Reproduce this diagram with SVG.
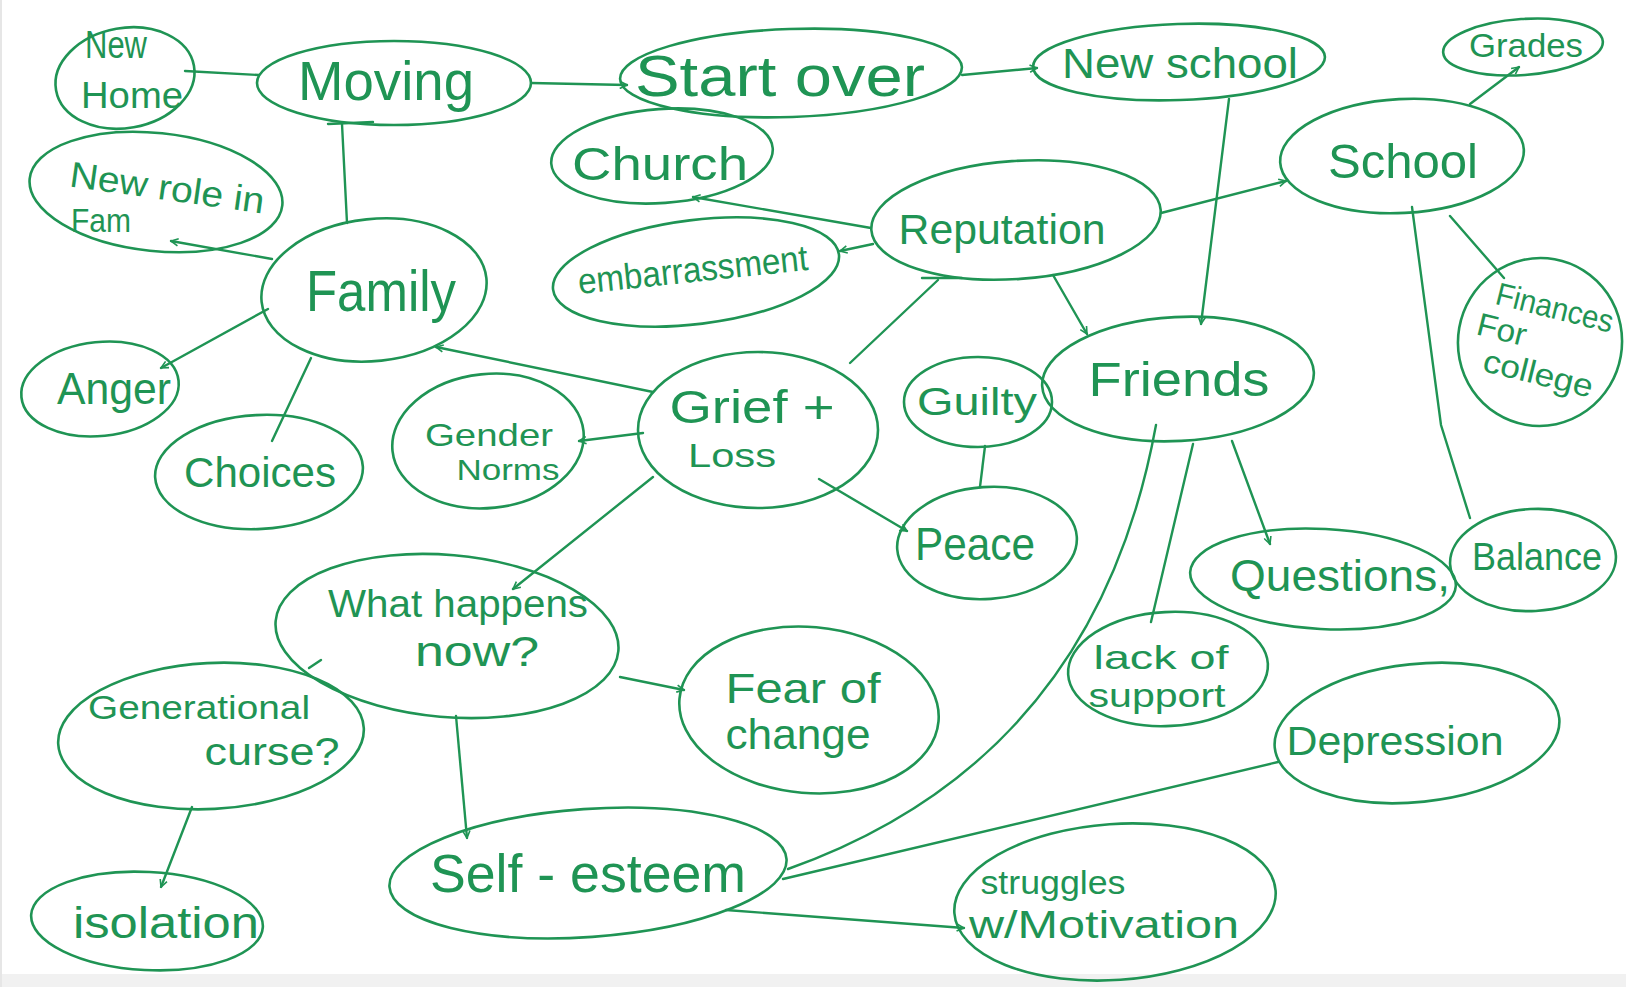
<svg xmlns="http://www.w3.org/2000/svg" width="1626" height="987" viewBox="0 0 1626 987">
<defs>
<style>
.n{fill:none;stroke:#1f9454;stroke-width:2.6}
.c{fill:none;stroke:#1f9454;stroke-width:2.4;stroke-linecap:round}
text{font-family:"Liberation Sans",sans-serif;fill:#1f9454;text-anchor:middle}
</style>
<marker id="a" viewBox="0 0 10 10" refX="9" refY="5" markerWidth="9" markerHeight="9" orient="auto" markerUnits="userSpaceOnUse">
<path d="M1,1 L9,5 L1,9" fill="none" stroke="#1f9454" stroke-width="1.8"/>
</marker>
</defs>
<rect width="1626" height="987" fill="#ffffff"/>
<rect x="0" y="974" width="1626" height="13" fill="#f1f1f1"/>
<rect x="0" y="0" width="2" height="987" fill="#e6e6e6"/>

<g id="connectors">
<line class="c" x1="185" y1="71" x2="259" y2="75"/>
<line class="c" x1="531" y1="83" x2="627" y2="85" marker-end="url(#a)"/>
<line class="c" x1="342" y1="124" x2="347" y2="223"/>
<line class="c" x1="328" y1="124" x2="373" y2="122"/>
<line class="c" x1="962" y1="75" x2="1037" y2="68" marker-end="url(#a)"/>
<line class="c" x1="1229" y1="99" x2="1201" y2="324" marker-end="url(#a)"/>
<line class="c" x1="1470" y1="104" x2="1519" y2="67" marker-end="url(#a)"/>
<line class="c" x1="1161" y1="213" x2="1286" y2="181" marker-end="url(#a)"/>
<polyline class="c" points="1412,207 1441,425 1470,518"/>
<line class="c" x1="1450" y1="216" x2="1504" y2="278"/>
<line class="c" x1="871" y1="228" x2="693" y2="197" marker-end="url(#a)"/>
<line class="c" x1="873" y1="244" x2="840" y2="251" marker-end="url(#a)"/>
<line class="c" x1="1053" y1="275" x2="1087" y2="334" marker-end="url(#a)"/>
<line class="c" x1="938" y1="280" x2="850" y2="363"/>
<line class="c" x1="922" y1="278" x2="962" y2="278"/>
<line class="c" x1="272" y1="259" x2="171" y2="241" marker-end="url(#a)"/>
<line class="c" x1="268" y1="309" x2="161" y2="368" marker-end="url(#a)"/>
<line class="c" x1="311" y1="358" x2="272" y2="441"/>
<line class="c" x1="653" y1="392" x2="436" y2="347" marker-end="url(#a)"/>
<line class="c" x1="643" y1="433" x2="579" y2="441" marker-end="url(#a)"/>
<line class="c" x1="819" y1="479" x2="907" y2="531" marker-end="url(#a)"/>
<line class="c" x1="653" y1="477" x2="513" y2="589" marker-end="url(#a)"/>
<line class="c" x1="985" y1="446" x2="980" y2="487"/>
<line class="c" x1="1232" y1="441" x2="1270" y2="544" marker-end="url(#a)"/>
<line class="c" x1="1193" y1="444" x2="1151" y2="622"/>
<path class="c" d="M1156,425 C1120,622 1016,788 788,869"/>
<line class="c" x1="1278" y1="762" x2="783" y2="879"/>
<line class="c" x1="620" y1="677" x2="684" y2="690" marker-end="url(#a)"/>
<line class="c" x1="456" y1="716" x2="467" y2="838" marker-end="url(#a)"/>
<line class="c" x1="309" y1="668" x2="321" y2="660"/>
<line class="c" x1="192" y1="807" x2="161" y2="887" marker-end="url(#a)"/>
<line class="c" x1="726" y1="910" x2="964" y2="928" marker-end="url(#a)"/>
</g>

<g id="n-newhome"><ellipse class="n" cx="125" cy="78" rx="70" ry="50" transform="rotate(-10 125 78)"/>
<text x="116" y="58" font-size="38" textLength="62" lengthAdjust="spacingAndGlyphs">New</text>
<text x="132" y="108" font-size="36" textLength="102" lengthAdjust="spacingAndGlyphs">Home</text></g>

<g id="n-moving"><ellipse class="n" cx="394" cy="83" rx="137" ry="42"/>
<text x="386" y="100" font-size="56" textLength="176" lengthAdjust="spacingAndGlyphs">Moving</text></g>

<g id="n-startover"><ellipse class="n" cx="791" cy="73" rx="171" ry="44" transform="rotate(-2 791 73)"/>
<text x="780" y="96" font-size="58" textLength="290" lengthAdjust="spacingAndGlyphs">Start over</text></g>

<g id="n-newschool"><ellipse class="n" cx="1179" cy="62" rx="146" ry="38" transform="rotate(-2 1179 62)"/>
<text x="1180" y="78" font-size="42" textLength="236" lengthAdjust="spacingAndGlyphs">New school</text></g>

<g id="n-grades"><ellipse class="n" cx="1523" cy="47" rx="80" ry="28" transform="rotate(-4 1523 47)"/>
<text x="1526" y="57" font-size="34" textLength="114" lengthAdjust="spacingAndGlyphs">Grades</text></g>

<g id="n-church"><ellipse class="n" cx="662" cy="156" rx="111" ry="47" transform="rotate(-4 662 156)"/>
<text x="660" y="180" font-size="46" textLength="176" lengthAdjust="spacingAndGlyphs">Church</text></g>

<g id="n-newrole"><ellipse class="n" cx="156" cy="192" rx="127" ry="59" transform="rotate(6 156 192)"/>
<g transform="rotate(8 166 196)"><text x="166" y="200" font-size="36" textLength="196" lengthAdjust="spacingAndGlyphs">New role in</text></g>
<text x="101" y="232" font-size="34" textLength="60" lengthAdjust="spacingAndGlyphs">Fam</text></g>

<g id="n-school"><ellipse class="n" cx="1402" cy="156" rx="122" ry="57" transform="rotate(-3 1402 156)"/>
<text x="1403" y="178" font-size="48" textLength="150" lengthAdjust="spacingAndGlyphs">School</text></g>

<g id="n-reputation"><ellipse class="n" cx="1016" cy="220" rx="145" ry="59" transform="rotate(-4 1016 220)"/>
<text x="1002" y="244" font-size="42" textLength="207" lengthAdjust="spacingAndGlyphs">Reputation</text></g>

<g id="n-embarrassment"><ellipse class="n" cx="696" cy="272" rx="144" ry="52" transform="rotate(-7 696 272)"/>
<g transform="rotate(-6 693 272)"><text x="693" y="282" font-size="36" textLength="231" lengthAdjust="spacingAndGlyphs">embarrassment</text></g></g>

<g id="n-family"><ellipse class="n" cx="374" cy="290" rx="113" ry="71" transform="rotate(-6 374 290)"/>
<text x="381" y="311" font-size="58" textLength="150" lengthAdjust="spacingAndGlyphs">Family</text></g>

<g id="n-finances"><ellipse class="n" cx="1540" cy="342" rx="82" ry="84" transform="rotate(10 1540 342)"/>
<g transform="rotate(14 1540 342)"><text x="1546" y="316" font-size="32" textLength="120" lengthAdjust="spacingAndGlyphs">Finances</text>
<text x="1500" y="350" font-size="32" textLength="50" lengthAdjust="spacingAndGlyphs">For</text>
<text x="1546" y="384" font-size="32" textLength="112" lengthAdjust="spacingAndGlyphs">college</text></g></g>

<g id="n-anger"><ellipse class="n" cx="100" cy="389" rx="79" ry="47" transform="rotate(-6 100 389)"/>
<text x="114" y="404" font-size="44" textLength="114" lengthAdjust="spacingAndGlyphs">Anger</text></g>

<g id="n-friends"><ellipse class="n" cx="1178" cy="379" rx="136" ry="62" transform="rotate(-3 1178 379)"/>
<text x="1179" y="396" font-size="48" textLength="181" lengthAdjust="spacingAndGlyphs">Friends</text></g>

<g id="n-grief"><ellipse class="n" cx="758" cy="430" rx="120" ry="78"/>
<text x="752" y="423" font-size="46" textLength="165" lengthAdjust="spacingAndGlyphs">Grief +</text>
<text x="732" y="467" font-size="34" textLength="88" lengthAdjust="spacingAndGlyphs">Loss</text></g>

<g id="n-gender"><ellipse class="n" cx="488" cy="441" rx="96" ry="67" transform="rotate(-6 488 441)"/>
<text x="489" y="446" font-size="32" textLength="128" lengthAdjust="spacingAndGlyphs">Gender</text>
<text x="508" y="480" font-size="30" textLength="103" lengthAdjust="spacingAndGlyphs">Norms</text></g>

<g id="n-guilty"><ellipse class="n" cx="978" cy="402" rx="74" ry="45"/>
<text x="977" y="415" font-size="38" textLength="120" lengthAdjust="spacingAndGlyphs">Guilty</text></g>

<g id="n-choices"><ellipse class="n" cx="259" cy="472" rx="104" ry="57" transform="rotate(-3 259 472)"/>
<text x="260" y="487" font-size="42" textLength="152" lengthAdjust="spacingAndGlyphs">Choices</text></g>

<g id="n-peace"><ellipse class="n" cx="987" cy="543" rx="90" ry="56" transform="rotate(-4 987 543)"/>
<text x="975" y="560" font-size="46" textLength="120" lengthAdjust="spacingAndGlyphs">Peace</text></g>

<g id="n-questions"><ellipse class="n" cx="1323" cy="579" rx="133" ry="50" transform="rotate(3 1323 579)"/>
<text x="1340" y="591" font-size="44" textLength="220" lengthAdjust="spacingAndGlyphs">Questions,</text></g>

<g id="n-balance"><ellipse class="n" cx="1533" cy="560" rx="83" ry="51" transform="rotate(-3 1533 560)"/>
<text x="1537" y="570" font-size="38" textLength="130" lengthAdjust="spacingAndGlyphs">Balance</text></g>

<g id="n-whathappens"><ellipse class="n" cx="447" cy="636" rx="172" ry="81" transform="rotate(5 447 636)"/>
<text x="458" y="617" font-size="38" textLength="260" lengthAdjust="spacingAndGlyphs">What happens</text>
<text x="477" y="666" font-size="42" textLength="124" lengthAdjust="spacingAndGlyphs">now?</text></g>

<g id="n-fear"><ellipse class="n" cx="809" cy="710" rx="130" ry="83" transform="rotate(5 809 710)"/>
<text x="803" y="703" font-size="42" textLength="155" lengthAdjust="spacingAndGlyphs">Fear of</text>
<text x="798" y="749" font-size="42" textLength="145" lengthAdjust="spacingAndGlyphs">change</text></g>

<g id="n-lack"><ellipse class="n" cx="1168" cy="669" rx="100" ry="57" transform="rotate(-3 1168 669)"/>
<text x="1161" y="669" font-size="34" textLength="135" lengthAdjust="spacingAndGlyphs">lack of</text>
<text x="1157" y="707" font-size="34" textLength="137" lengthAdjust="spacingAndGlyphs">support</text></g>

<g id="n-depression"><ellipse class="n" cx="1417" cy="733" rx="143" ry="69" transform="rotate(-6 1417 733)"/>
<text x="1395" y="755" font-size="40" textLength="217" lengthAdjust="spacingAndGlyphs">Depression</text></g>

<g id="n-generational"><ellipse class="n" cx="211" cy="736" rx="153" ry="73" transform="rotate(-3 211 736)"/>
<text x="199" y="719" font-size="34" textLength="222" lengthAdjust="spacingAndGlyphs">Generational</text>
<text x="272" y="765" font-size="38" textLength="135" lengthAdjust="spacingAndGlyphs">curse?</text></g>

<g id="n-selfesteem"><ellipse class="n" cx="588" cy="873" rx="199" ry="64" transform="rotate(-4 588 873)"/>
<text x="588" y="892" font-size="54" textLength="316" lengthAdjust="spacingAndGlyphs">Self - esteem</text></g>

<g id="n-struggles"><ellipse class="n" cx="1115" cy="902" rx="161" ry="78" transform="rotate(-4 1115 902)"/>
<text x="1053" y="894" font-size="34" textLength="145" lengthAdjust="spacingAndGlyphs">struggles</text>
<text x="1104" y="938" font-size="38" textLength="270" lengthAdjust="spacingAndGlyphs">w/Motivation</text></g>

<g id="n-isolation"><ellipse class="n" cx="147" cy="921" rx="116" ry="49" transform="rotate(3 147 921)"/>
<text x="166" y="938" font-size="44" textLength="186" lengthAdjust="spacingAndGlyphs">isolation</text></g>
</svg>
